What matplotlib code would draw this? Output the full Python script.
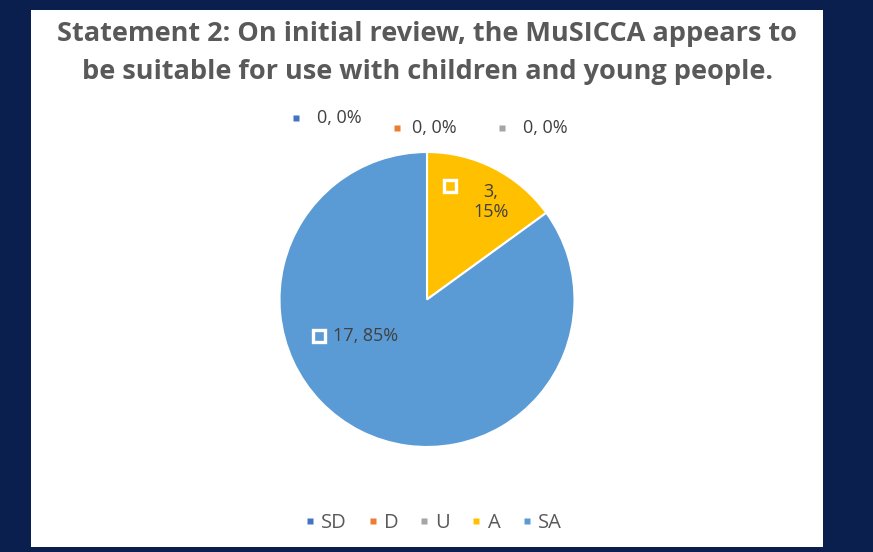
import numpy as np
import matplotlib
matplotlib.use("Agg")
import matplotlib.pyplot as plt
from matplotlib.patches import Rectangle

categories = ["SD", "D", "U", "A", "SA"]
counts = [0, 0, 0, 3, 17]
colors = ["#4472C4", "#ED7D31", "#A5A5A5", "#FFC000", "#5B9BD5"]
title_lines = ["Statement 2: On initial review, the MuSICCA appears to",
               "be suitable for use with children and young people."]

W, H = 873, 552
navy = "#0a1f4e"
txt = "#404040"
plt.rcParams['font.family'] = ['Open Sans', 'DejaVu Sans']


def px(x, y):
    # pixel (from top-left) -> figure fraction
    return x / W, 1 - y / H


fig = plt.figure(figsize=(W / 100, H / 100), dpi=100)
fig.patch.set_facecolor(navy)

# white chart panel
fig.patches.append(Rectangle(px(31, 547), (823 - 31) / W, (547 - 10) / H,
                             transform=fig.transFigure, facecolor="white",
                             edgecolor="none", zorder=-10))

for line, ty in zip(title_lines, [41, 79]):
    fig.text(*px(427, ty), line, ha="center", va="baseline", fontsize=19.5,
             fontweight="bold", color="#595959")

# pie
cx, cy, r = 427, 299.5, 147.5
ax = fig.add_axes([(cx - r) / W, 1 - (cy + r) / H, 2 * r / W, 2 * r / H])
wedges, _ = ax.pie(counts, colors=colors, startangle=90, counterclock=False,
                   wedgeprops=dict(edgecolor="white", linewidth=1.5))
ax.set_xlim(-1, 1)
ax.set_ylim(-1, 1)
ax.set_aspect("equal")
ax.axis("off")

total = sum(counts)
labels = ["%d, %d%%" % (c, round(100 * c / total)) for c in counts]
labels[3] = "%d,\n%d%%" % (counts[3], round(100 * counts[3] / total))

# label positions (pixels): marker x, marker y, text x, text y, ha
label_pos = [
    (296, 118, 317, 118, "left"),
    (397, 128, 412, 128, "left"),
    (502, 128, 523, 128, "left"),
    (450, 186, 491, 202, "center"),
    (319, 336, 333, 336, "left"),
]
for i, (mx, my, tx, ty, ha) in enumerate(label_pos):
    if counts[i] > 0:
        fig.add_artist(plt.Line2D([mx / W], [1 - my / H], marker="s", markersize=8.5,
                                  markerfacecolor=colors[i], markeredgecolor="white",
                                  markeredgewidth=2.4, transform=fig.transFigure))
    else:
        fig.add_artist(plt.Line2D([mx / W], [1 - my / H], marker="s", markersize=4.5,
                                  markerfacecolor=colors[i], markeredgecolor="none",
                                  transform=fig.transFigure))
    fig.text(tx / W, 1 - ty / H, labels[i], ha=ha, va="center", fontsize=13,
             color=txt, linespacing=1.2)

# legend
handles = [plt.Line2D([], [], marker="s", linestyle="none", markersize=5,
                      markerfacecolor=c, markeredgecolor="none") for c in colors]
fig.legend(handles, categories, loc="center", bbox_to_anchor=px(432, 523),
           ncol=5, frameon=False, fontsize=14.5, labelcolor="#595959",
           handletextpad=0.2, columnspacing=0.95, handlelength=0.7)

fig.savefig("out.png", dpi=100, facecolor=navy)
